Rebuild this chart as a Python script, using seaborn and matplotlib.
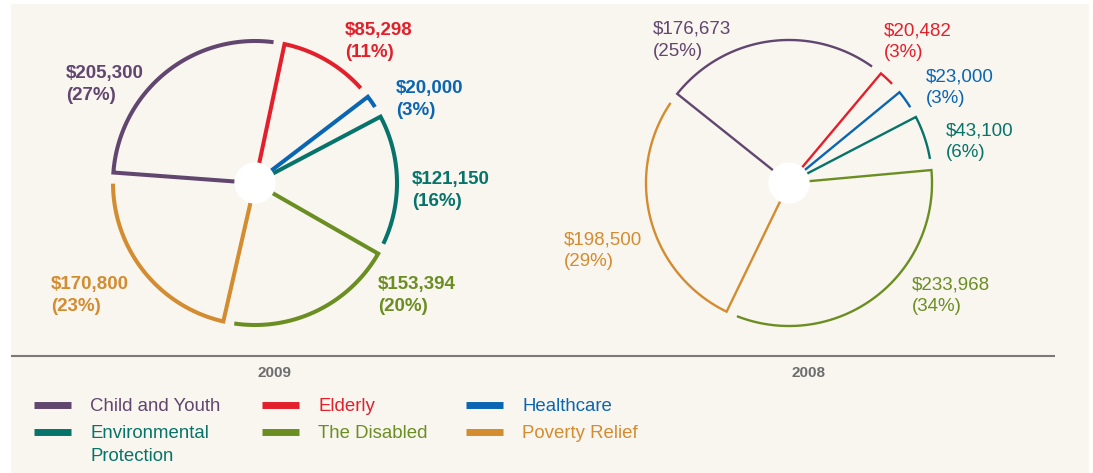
import numpy as np
import pandas as pd
import matplotlib.pyplot as plt
from matplotlib.patches import Rectangle, Circle
import seaborn as sns

# data
categories = ["Child and Youth", "Elderly", "Healthcare",
              "Environmental Protection", "The Disabled", "Poverty Relief"]
legend_labels = ["Child and Youth", "Elderly", "Healthcare",
                 "Environmental\nProtection", "The Disabled", "Poverty Relief"]
colors = ["#61466f", "#e2202c", "#0a66b2", "#06746a", "#6b8e23", "#d38c30"]

amounts_2009 = [205300, 85298, 20000, 121150, 153394, 170800]
pcts_2009 = [27, 11, 3, 16, 20, 23]
amounts_2008 = [176673, 20482, 23000, 43100, 233968, 198500]
pcts_2008 = [25, 3, 3, 6, 34, 29]

# wedges are drawn clockwise in this order
draw_order = ["Elderly", "Healthcare", "Environmental Protection",
              "The Disabled", "Poverty Relief", "Child and Youth"]

W, H = 1093, 473
palette = dict(zip(categories, sns.color_palette(colors)))

sns.set_style("white")
plt.rcParams["font.family"] = ["Liberation Sans", "DejaVu Sans"]


def draw_ring(fig, cx, cy, r, amounts, start_deg, gap_deg, lw):
    """open wedges: one radius + arc per category, white hub on top"""
    hw, hh = 300, 180
    ax = fig.add_axes([(cx - hw) / W, 1 - (cy + hh) / H, 2 * hw / W, 2 * hh / H])
    ax.set_xlim(-hw / r, hw / r)
    ax.set_ylim(-hh / r, hh / r)
    ax.set_axis_off()

    vals = dict(zip(categories, amounts))
    total = sum(amounts)
    parts = []
    a0 = start_deg
    for cat in draw_order:
        sweep = 360 * vals[cat] / total
        t = np.radians(np.linspace(a0, a0 - sweep + gap_deg, 90))
        parts.append(pd.DataFrame({
            "x": np.r_[0, np.cos(t)],
            "y": np.r_[0, np.sin(t)],
            "cat": cat,
        }))
        a0 -= sweep
    df = pd.concat(parts, ignore_index=True)
    sns.lineplot(data=df, x="x", y="y", hue="cat", palette=palette,
                 sort=False, estimator=None, lw=lw, legend=False, ax=ax,
                 solid_joinstyle="miter", solid_capstyle="butt")
    ax.add_patch(Circle((0, 0), 20 / r, color="white", zorder=5))
    return ax


fig = plt.figure(figsize=(W / 100, H / 100), dpi=100)

# background layer in pixel coordinates
bg = fig.add_axes([0, 0, 1, 1])
bg.set_xlim(0, W)
bg.set_ylim(H, 0)
bg.set_axis_off()
bg.add_patch(Rectangle((11, 4), 1078, 469, facecolor="#f9f5ef", edgecolor="none"))
bg.plot([11, 1055], [356, 356], color="#7a7a7a", lw=1.5, solid_capstyle="butt")

draw_ring(fig, 255, 183, 142, amounts_2009, 78, 4.5, 2.9)
draw_ring(fig, 789, 183, 143, amounts_2008, 50, 4.5, 1.7)

# value labels (left x, centre of first line)
pos_2009 = {"Child and Youth": (66, 72), "Elderly": (345, 29), "Healthcare": (396, 87),
            "Environmental Protection": (412, 178), "The Disabled": (378, 283),
            "Poverty Relief": (51, 283)}
pos_2008 = {"Child and Youth": (653, 28), "Elderly": (884, 29), "Healthcare": (926, 75),
            "Environmental Protection": (946, 129), "The Disabled": (912, 283),
            "Poverty Relief": (564, 238)}

for amounts, pcts, pos, weight in [(amounts_2009, pcts_2009, pos_2009, "bold"),
                                   (amounts_2008, pcts_2008, pos_2008, "normal")]:
    for cat, amt, pct in zip(categories, amounts, pcts):
        x, y = pos[cat]
        bg.text(x, y - 7, f"${amt:,}\n({pct}%)", color=palette[cat], fontsize=13.5,
                fontweight=weight, ha="left", va="top", linespacing=1.37)

bg.text(275, 373, "2009", color="#6d6d6d", fontsize=11, fontweight="bold",
        ha="center", va="center")
bg.text(809, 373, "2008", color="#6d6d6d", fontsize=11, fontweight="bold",
        ha="center", va="center")

# legend, 3 columns x 2 rows
col_x = [34, 262, 466]
row_y = [405, 432]
for i, (cat, lab) in enumerate(zip(categories, legend_labels)):
    x0 = col_x[i % 3]
    y0 = row_y[i // 3]
    bg.plot([x0, x0 + 37], [y0, y0], color=palette[cat], lw=5, solid_capstyle="butt")
    bg.text(x0 + 56, y0 - 7, lab, color=palette[cat], fontsize=13.4,
            ha="left", va="top", linespacing=1.48)

fig.savefig("out.png", dpi=100, facecolor="white")
